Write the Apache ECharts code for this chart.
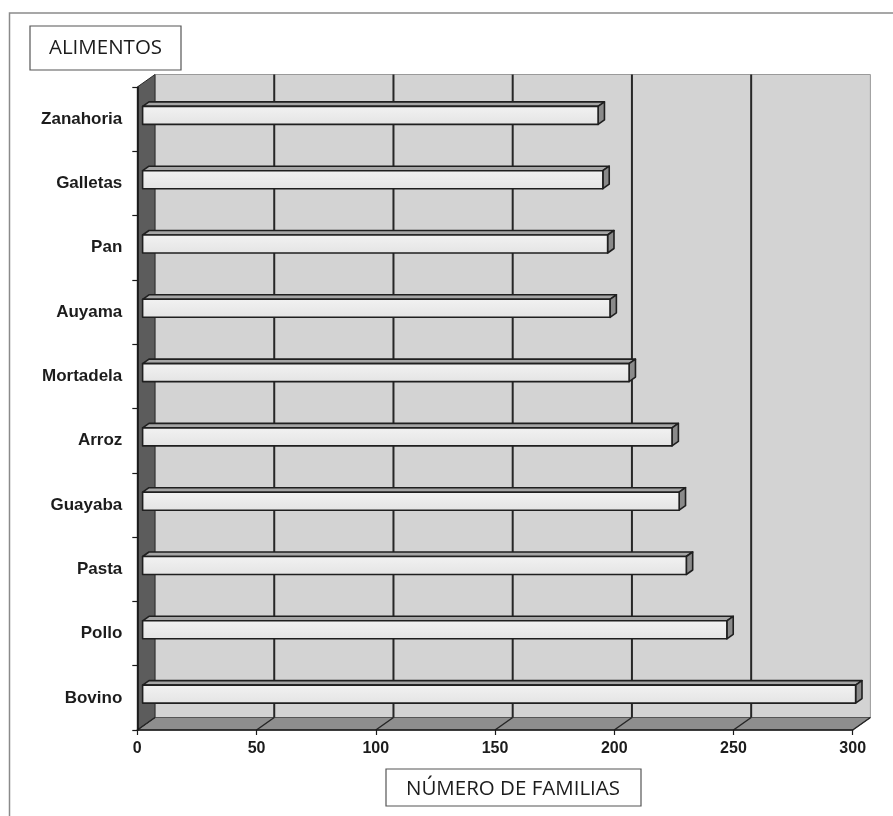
<!DOCTYPE html>
<html>
<head>
<meta charset="utf-8">
<style>
  html, body { margin: 0; padding: 0; background: #ffffff; }
  #chart { width: 893px; height: 816px; }
</style>
<script src="https://cdn.jsdelivr.net/npm/echarts@6/dist/echarts.min.js"></script>
</head>
<body>
<div id="chart"></div>
<script>
// Foods, listed top to bottom
const categories = ['Zanahoria', 'Galletas', 'Pan', 'Auyama', 'Mortadela', 'Arroz', 'Guayaba', 'Pasta', 'Pollo', 'Bovino'];
// Number of families per food
const familias = [191, 193, 195, 196, 204, 222, 225, 228, 245, 299];
// Value axis ticks
const xTicks = [0, 50, 100, 150, 200, 250, 300];

const yTitle = 'ALIMENTOS';
const xTitle = 'NÚMERO DE FAMILIAS';

// Depth vector of the pseudo-3D box (pixels)
const DEPTH = [17.7, -12.5];
const BAR_FRONT = 0.3;   // fraction of depth where a bar's front face sits
const BAR_BACK = 0.66;   // fraction of depth where a bar's back face sits

const chart = echarts.init(document.getElementById('chart'), null, { renderer: 'canvas' });

function renderWalls(params, api) {
  const cs = params.coordSys;
  const x0 = cs.x, x1 = cs.x + cs.width;
  const top = cs.y, bot = cs.y + cs.height;
  const dx = DEPTH[0], dy = DEPTH[1];
  const children = [];
  // back wall
  children.push({
    type: 'rect',
    shape: { x: x0 + dx, y: top + dy, width: x1 - x0, height: bot - top },
    style: { fill: '#d3d3d3', stroke: '#9a9a9a', lineWidth: 1 }
  });
  // floor
  children.push({
    type: 'polygon',
    shape: { points: [[x0, bot], [x1, bot], [x1 + dx, bot + dy], [x0 + dx, bot + dy]] },
    style: { fill: '#8e8e8e', stroke: '#555555', lineWidth: 1 }
  });
  // left wall
  children.push({
    type: 'polygon',
    shape: { points: [[x0, top], [x0 + dx, top + dy], [x0 + dx, bot + dy], [x0, bot]] },
    style: { fill: '#5c5c5c', stroke: '#2a2a2a', lineWidth: 1 }
  });
  xTicks.forEach(function (v) {
    const x = api.coord([v, 0])[0];
    if (v > 0 && v < xTicks[xTicks.length - 1]) {
      // grid line on the back wall
      children.push({
        type: 'line',
        shape: { x1: x + dx, y1: top + dy, x2: x + dx, y2: bot + dy },
        style: { stroke: '#262626', lineWidth: 2 }
      });
    }
    // diagonal across the floor
    children.push({
      type: 'line',
      shape: { x1: x, y1: bot, x2: x + dx, y2: bot + dy },
      style: { stroke: '#262626', lineWidth: 1.5 }
    });
  });
  return { type: 'group', children: children };
}

function renderBar(params, api) {
  const idx = api.value(0);
  const val = api.value(1);
  const p0 = api.coord([0, idx]);
  const p1 = api.coord([val, idx]);
  const band = api.size([0, 1])[1];
  const fx = DEPTH[0] * BAR_FRONT, fy = DEPTH[1] * BAR_FRONT;
  const bx = DEPTH[0] * (BAR_BACK - BAR_FRONT), by = DEPTH[1] * (BAR_BACK - BAR_FRONT);
  const h = band * 0.28;
  const xa = p0[0] + fx, xb = p1[0] + fx;
  const yt = p0[1] + fy - h / 2;
  const edge = { stroke: '#1f1f1f', lineWidth: 1.6, lineJoin: 'round' };
  return {
    type: 'group',
    children: [
      {
        type: 'polygon',
        shape: { points: [[xa, yt], [xb, yt], [xb + bx, yt + by], [xa + bx, yt + by]] },
        style: Object.assign({ fill: '#a6a6a6' }, edge)
      },
      {
        type: 'polygon',
        shape: { points: [[xb, yt], [xb + bx, yt + by], [xb + bx, yt + by + h], [xb, yt + h]] },
        style: Object.assign({ fill: '#8a8a8a' }, edge)
      },
      {
        type: 'rect',
        shape: { x: xa, y: yt, width: xb - xa, height: h },
        style: Object.assign({
          fill: new echarts.graphic.LinearGradient(0, 0, 0, 1, [
            { offset: 0, color: '#f2f2f2' },
            { offset: 1, color: '#e4e4e4' }
          ])
        }, edge)
      }
    ]
  };
}

const labelFont = { fontFamily: 'Liberation Sans, Arial, sans-serif', fontWeight: 'bold', color: '#1c1c1c' };

chart.setOption({
  animation: false,
  backgroundColor: '#ffffff',
  grid: { left: 137.3, right: 40.3, top: 87, bottom: 86, containLabel: false },
  xAxis: {
    type: 'value',
    min: 0, max: 300, interval: 50,
    axisLine: { show: true, lineStyle: { color: '#1a1a1a', width: 1.5 } },
    axisTick: { show: true, length: 5, lineStyle: { color: '#1a1a1a', width: 1.2 } },
    axisLabel: Object.assign({ margin: 11, fontSize: 16 }, labelFont),
    splitLine: { show: false }
  },
  yAxis: {
    type: 'category',
    inverse: true,
    data: categories,
    axisLine: { show: true, lineStyle: { color: '#111111', width: 1.5 } },
    axisTick: { show: true, length: 5, lineStyle: { color: '#1a1a1a', width: 1.2 } },
    axisLabel: Object.assign({ margin: 15, fontSize: 17 }, labelFont),
    splitLine: { show: false }
  },
  series: [
    {
      type: 'custom',
      z: -1,
      silent: true,
      renderItem: renderWalls,
      data: [[0, 0]],
      encode: { x: 0, y: 1 }
    },
    {
      type: 'custom',
      z: 3,
      renderItem: renderBar,
      encode: { y: 0, x: 1 },
      data: categories.map(function (c, i) { return [i, familias[i]]; })
    }
  ],
  graphic: [
    {
      type: 'rect',
      z: 0,
      shape: { x: 9.5, y: 13, width: 1000, height: 1000 },
      style: { fill: 'none', stroke: '#8a8a8a', lineWidth: 1.5 }
    },
    {
      type: 'group',
      children: [
        { type: 'rect', shape: { x: 30, y: 26, width: 151, height: 44 }, style: { fill: '#ffffff', stroke: '#555555', lineWidth: 1.2 } },
        { type: 'text', x: 105.5, y: 48, style: { text: yTitle, font: '20.5px "Open Sans", sans-serif', fill: '#1c1c1c', align: 'center', verticalAlign: 'middle' } }
      ]
    },
    {
      type: 'group',
      children: [
        { type: 'rect', shape: { x: 386, y: 769, width: 255, height: 37 }, style: { fill: '#ffffff', stroke: '#555555', lineWidth: 1.2 } },
        { type: 'text', x: 513, y: 789, style: { text: xTitle, font: '20.5px "Open Sans", sans-serif', fill: '#1c1c1c', align: 'center', verticalAlign: 'middle' } }
      ]
    }
  ]
});
</script>
</body>
</html>
